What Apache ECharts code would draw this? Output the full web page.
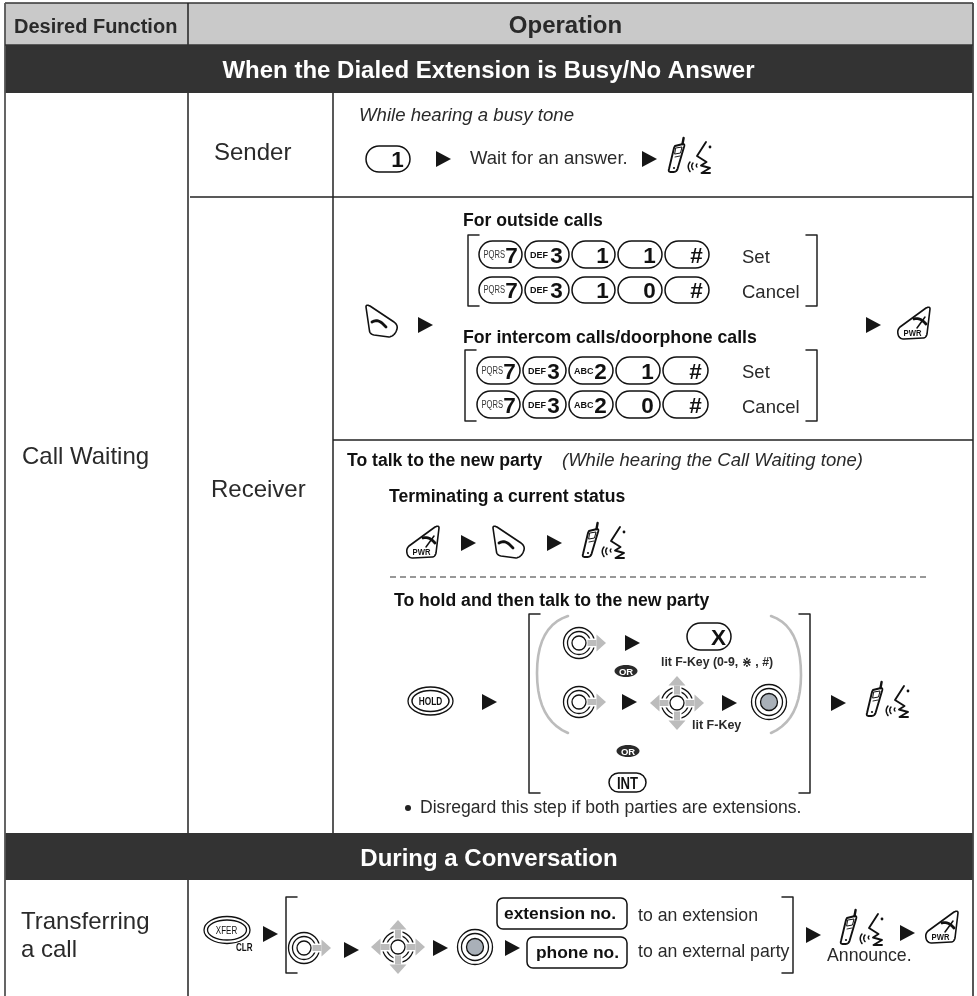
<!DOCTYPE html>
<html><head><meta charset="utf-8">
<style>html,body{margin:0;padding:0;background:#fff}#c{width:977px;height:996px}</style>
<script src="https://cdn.jsdelivr.net/npm/echarts@6/dist/echarts.min.js"></script>
</head><body><div id="c"></div>
<script>
const headers = ['Desired Function', 'Operation'];
const sections = ['When the Dialed Extension is Busy/No Answer', 'During a Conversation'];
const functionNames = ['Call Waiting', 'Transferring', 'a call'];
const roles = ['Sender', 'Receiver'];
const outsideRows = [['PQRS|7', 'DEF|3', '|1', '|1', '|#'], ['PQRS|7', 'DEF|3', '|1', '|0', '|#']];
const intercomRows = [['PQRS|7', 'DEF|3', 'ABC|2', '|1', '|#'], ['PQRS|7', 'DEF|3', 'ABC|2', '|0', '|#']];
const setCancel = ['Set', 'Cancel'];
const notes = {
  busy: 'While hearing a busy tone', wait: 'Wait for an answer.', outside: 'For outside calls',
  intercom: 'For intercom calls/doorphone calls', talk: 'To talk to the new party',
  tone: '(While hearing the Call Waiting tone)', term: 'Terminating a current status',
  hold: 'To hold and then talk to the new party', litAll: 'lit F-Key (0-9, \u22C7 , #)', lit: 'lit F-Key',
  disregard: 'Disregard this step if both parties are extensions.',
  ext: 'extension no.', phone: 'phone no.', toExt: 'to an extension', toParty: 'to an external party', announce: 'Announce.'
};

const FF = '"Liberation Sans", "DejaVu Sans", sans-serif';
const INK = '#1c1c1c', TXT = '#2a2a2a', GR = '#bcbcbc';
const E = [];
function txt(s, x, base, size, o) {
  o = o || {};
  const el = { type: 'text', x: x, y: base - 0.27 * size, style: {
    text: s, font: (o.italic ? 'italic ' : '') + (o.bold ? 'bold ' : '') + size + 'px ' + FF,
    fill: o.fill || TXT, textAlign: o.align || 'left', textVerticalAlign: 'middle' } };
  if (o.sx) { el.scaleX = o.sx; }
  return el;
}
function ln(x1, y1, x2, y2, c, w, dash) {
  return { type: 'line', shape: { x1, y1, x2, y2 }, style: { stroke: c || INK, lineWidth: w || 1.5, lineDash: dash || null } };
}
function rc(x, y, w, h, fill, r, stroke, lw) {
  return { type: 'rect', shape: { x, y, width: w, height: h, r: r || 0 }, style: { fill: fill, stroke: stroke || null, lineWidth: lw || 0 } };
}
function circ(cx, cy, r, stroke, lw, fill) {
  return { type: 'circle', shape: { cx, cy, r }, style: { fill: fill || 'none', stroke: stroke || null, lineWidth: lw || 0 } };
}
function ell(cx, cy, rx, ry, stroke, lw, fill) {
  return { type: 'ellipse', shape: { cx, cy, rx, ry }, style: { fill: fill || 'none', stroke: stroke || null, lineWidth: lw || 0 } };
}
function path(d, stroke, lw, fill) {
  const tk = d.replace(/([MLQZ])/g, ' $1 ').trim().split(/[\s,]+/).filter(Boolean);
  const out = []; let pts = null, i = 0, cur = null, op = null;
  const flush = (closed) => {
    if (!pts) return;
    out.push({ type: closed ? 'polygon' : 'polyline', shape: { points: pts },
      style: { stroke: stroke || null, lineWidth: lw || 1, fill: closed ? (fill || 'none') : null, lineJoin: 'round', lineCap: 'round' } });
    pts = null;
  };
  while (i < tk.length) {
    const t = tk[i];
    if (/^[MLQZ]$/.test(t)) { op = t; i++; if (t === 'Z') flush(true); continue; }
    if (op === 'M') { flush(false); cur = [+tk[i], +tk[i + 1]]; pts = [cur]; i += 2; op = 'L'; }
    else if (op === 'L') { cur = [+tk[i], +tk[i + 1]]; pts.push(cur); i += 2; }
    else if (op === 'Q') {
      const cx = +tk[i], cy = +tk[i + 1], ex = +tk[i + 2], ey = +tk[i + 3];
      for (let k = 1; k <= 10; k++) { const u = k / 10, v = 1 - u;
        pts.push([v * v * cur[0] + 2 * u * v * cx + u * u * ex, v * v * cur[1] + 2 * u * v * cy + u * u * ey]); }
      cur = [ex, ey]; i += 4;
    } else i++;
  }
  flush(false);
  return out;
}
function group(x, y, children, s) {
  return { type: 'group', x, y, scaleX: s || 1, scaleY: s || 1, children: children.flat() };
}
function tri(x, y, h) {
  h = h || 16;
  return { type: 'polygon', shape: { points: [[x, y], [x, y + h], [x + 15, y + h / 2]] }, style: { fill: '#161616' } };
}
function bracket(x, y0, y1, dir) {
  return path('M' + (x + dir * 11) + ' ' + y0 + ' L' + x + ' ' + y0 + ' L' + x + ' ' + y1 + ' L' + (x + dir * 11) + ' ' + y1, '#222', 1.5);
}
function key(x0, y0, x1, y1, spec) {
  const p = spec.split('|'), h = y1 - y0, out = [rc(x0, y0, x1 - x0, h, '#fff', h / 2, '#111', 1.5)];
  const mid = (y0 + y1) / 2;
  if (p[0] === 'PQRS') out.push(txt(p[0], x0 + 4.5, mid + 3.2, 10, { sx: 0.76, fill: '#333' }));
  else if (p[0]) out.push(txt(p[0], x0 + 5, mid + 3.2, 9, { bold: true, fill: '#111' }));
  const dx = p[0] === 'PQRS' ? 10.5 : 12.5;
  out.push(txt(p[1], x1 - dx, mid + 8, 22.5, { bold: true, align: 'center', fill: '#111' }));
  return out;
}
function talk(x, y) {
  return group(x, y, [
    path('M7 8 L15 6 Q17 6 16 9 L9.5 31 Q8.5 34 5 34 L3 34 Q0 34 1 31 L6 10 Z', '#111', 1.9, '#fff'),
    path('M14.5 6 L15.6 0', '#111', 2.4),
    path('M8 10 L14 9 L12.5 15 L7 16 Z', '#111', 1),
    path('M7 19 L12 18', '#111', 0.9),
    circ(6, 30, 1.1, '#111', 0, '#111'),
    path('M22 24 Q18.5 28.5 22 33.5', '#111', 1.5), path('M25 25 Q22.5 28 25 31.5', '#111', 1.5), path('M29 26 Q27.5 27.5 29 29', '#111', 1.4),
    path('M38 4 L29 18 L38.5 24 L33 27.5 L42 30 L33.5 35 L42 35', '#111', 1.9),
    circ(42, 9, 1.4, '#111', 0, '#111')
  ]);
}
function hang(x, y) {
  return group(x, y, [
    path('M1 3 Q1 0 5 2 L29 18 Q33 21 32 25 Q30 32 24 33 L9 31 Q5 30 4.5 27 Z', '#111', 1.6, '#fff'),
    path('M7 18 Q12 15 17 19 L21 23', '#111', 2.8)
  ]);
}
function pwr(x, y) {
  return group(x, y, [
    path('M33 3 Q33 0 29 2 L3 21 Q0 24 1 28 Q2 33 7 33 L26 32 Q29 32 30 28 Z', '#111', 1.6, '#fff'),
    path('M17 13 Q23 11 29 18', '#111', 2.8), path('M20 22 L28 11', '#111', 1.5),
    txt('PWR', 15.5, 30, 8.5, { bold: true, align: 'center', fill: '#111', sx: 0.9 })
  ]);
}
function arrow(cx, cy, ang) {
  const a = ang * Math.PI / 180;
  return { type: 'group', x: cx, y: cy, rotation: -a, children: [
    rc(8.5, -3, 9, 6, GR),
    { type: 'polygon', shape: { points: [[17.5, -8.5], [17.5, 8.5], [27, 0]] }, style: { fill: GR } }
  ] };
}
function navRight(cx, cy) {
  return [circ(cx, cy, 15.5, '#111', 1.3), circ(cx, cy, 11.5, '#111', 1.3), circ(cx, cy, 7, '#111', 1.3),
    rc(cx + 8, cy - 4.5, 12, 9, '#fff'), arrow(cx, cy, 0)];
}
function navCross(cx, cy) {
  const out = [circ(cx, cy, 15.5, '#111', 1.3), circ(cx, cy, 11.5, '#111', 1.3),
    rc(cx + 8, cy - 4.5, 12, 9, '#fff'), rc(cx - 20, cy - 4.5, 12, 9, '#fff'),
    rc(cx - 4.5, cy + 8, 9, 12, '#fff'), rc(cx - 4.5, cy - 20, 9, 12, '#fff'),
    circ(cx, cy, 7, '#111', 1.3)];
  [0, 90, 180, 270].forEach(a => out.push(arrow(cx, cy, a)));
  return out;
}
function navPress(cx, cy) {
  return [circ(cx, cy, 17.5, '#111', 1.3), circ(cx, cy, 13.5, '#111', 1.3), circ(cx, cy, 8.5, '#111', 1.3, '#a9b0b8')];
}
function orPill(cx, cy) {
  return [ell(cx, cy, 11.5, 6, null, 0, '#2a2a2a'), txt('OR', cx, cy + 3.5, 9.5, { bold: true, align: 'center', fill: '#fff' })];
}
function put() { for (const a of arguments) { if (Array.isArray(a)) put.apply(null, a); else E.push(a); } }

// table frame
put(rc(5, 3, 968, 42, '#c9c9c9'), rc(5, 45, 968, 48, '#333333'), rc(5, 833, 968, 47, '#333333'));
put(ln(5, 3, 973, 3, '#333', 1.5), ln(5, 3, 5, 996, '#555', 1.8), ln(973, 3, 973, 996, '#444', 1.8));
put(ln(188, 3, 188, 45, '#222', 1.5), ln(5, 45, 973, 45, '#333', 1.5));
put(ln(188, 93, 188, 833, '#222', 1.5), ln(333, 93, 333, 833, '#222', 1.5), ln(188, 880, 188, 996, '#222', 1.5));
put(ln(190, 197, 973, 197, '#222', 1.5), ln(333, 440, 973, 440, '#222', 1.5));
put(txt(headers[0], 14, 33, 20, { bold: true }), txt(headers[1], 565.5, 32.5, 24, { bold: true, align: 'center' }));
put(txt(sections[0], 488.5, 78, 24, { bold: true, align: 'center', fill: '#fff' }));
put(txt(sections[1], 489, 866, 24, { bold: true, align: 'center', fill: '#fff' }));
put(txt(functionNames[0], 22, 464, 24), txt(functionNames[1], 21, 929, 24), txt(functionNames[2], 21, 957, 24));
put(txt(roles[0], 214, 160, 24), txt(roles[1], 211, 497, 24));

// sender
put(txt(notes.busy, 359, 121, 18.6, { italic: true }));
put(key(366, 146, 410, 172, '|1'), tri(436, 151), txt(notes.wait, 470, 164, 18.5), tri(642, 151), talk(668, 138));

// receiver set/cancel
const X1 = [[479, 522], [525, 569], [572, 615], [618, 662], [665, 709]];
const X2 = [[477, 520], [523, 566], [569, 613], [616, 660], [663, 708]];
put(txt(notes.outside, 463, 225.5, 17.6, { bold: true, fill: '#111' }));
put(bracket(468, 235, 306, 1), bracket(817, 235, 306, -1));
outsideRows.forEach((r, i) => r.forEach((k, j) => put(key(X1[j][0], i ? 277 : 241, X1[j][1], i ? 303 : 268, k))));
put(txt(setCancel[0], 742, 263, 18.5), txt(setCancel[1], 742, 298, 18.5));
put(hang(365, 304), tri(418, 317), tri(866, 317), pwr(897, 306));
put(txt(notes.intercom, 463, 342.5, 17.7, { bold: true, fill: '#111' }));
put(bracket(465, 350, 421, 1), bracket(817, 350, 421, -1));
intercomRows.forEach((r, i) => r.forEach((k, j) => put(key(X2[j][0], i ? 391 : 357, X2[j][1], i ? 418 : 384, k))));
put(txt(setCancel[0], 742, 378, 18.5), txt(setCancel[1], 742, 413, 18.5));

// new party
put(txt(notes.talk, 347, 465.5, 17.6, { bold: true, fill: '#111' }), txt(notes.tone, 562, 465.5, 18.5, { italic: true }));
put(txt(notes.term, 389, 501.5, 17.6, { bold: true, fill: '#111' }));
put(pwr(406, 525), tri(461, 535), hang(492, 525), tri(547, 535), talk(582, 523));
put(ln(390, 577, 927, 577, '#333', 1.2, [6, 4]));
put(txt(notes.hold, 394, 605.5, 17.6, { bold: true, fill: '#111' }));
put(ell(430.5, 701, 22.5, 14, '#111', 1.3), ell(430.5, 701, 18.5, 10.5, '#111', 1.5));
put(txt('HOLD', 430.5, 705, 11.5, { bold: true, align: 'center', fill: '#111', sx: 0.72 }));
put(tri(482, 694), bracket(529, 614, 793, 1), bracket(810, 614, 793, -1));
put(path('M568 616 Q537 626 537 673 Q537 720 568 733', GR, 2.6), path('M771 616 Q801 626 801 675 Q801 720 771 733', GR, 2.6));
put(navRight(579, 643), tri(625, 635), orPill(626, 671));
put(key(687, 623, 731, 650, '|X'));
put(txt(notes.litAll, 661, 666, 12.3, { bold: true }));
put(navRight(579, 702), tri(622, 694), navCross(677, 703), tri(722, 695), navPress(769, 702));
put(txt(notes.lit, 692, 729, 12.5, { bold: true }));
put(tri(831, 695), talk(866, 682));
put(orPill(628, 751), rc(609, 773, 37, 19, '#fff', 9.5, '#111', 1.5), txt('INT', 627.5, 788.5, 16, { bold: true, align: 'center', fill: '#111', sx: 0.82 }));
put(circ(408, 808, 3, null, 0, '#222'), txt(notes.disregard, 420, 813, 17.6));

// transfer row
put(ell(227, 930, 23, 13.5, '#111', 1.3), ell(227, 930, 19.5, 10, '#111', 1.3));
put(txt('XFER', 226.5, 934, 10, { align: 'center', fill: '#111', sx: 0.8 }), txt('CLR', 236, 951, 11.5, { bold: true, fill: '#111', sx: 0.7 }));
put(tri(263, 926), bracket(286, 897, 973, 1), navRight(304, 948), tri(344, 942), navCross(398, 947), tri(433, 940), navPress(475, 947), tri(505, 940));
put(rc(497, 898, 130, 31, '#fff', 6, '#111', 1.5), rc(527, 937, 100, 31, '#fff', 6, '#111', 1.5));
put(txt(notes.ext, 560, 919, 17.4, { bold: true, align: 'center', fill: '#111' }), txt(notes.phone, 577.5, 958, 17.4, { bold: true, align: 'center', fill: '#111' }));
put(txt(notes.toExt, 638, 921, 17.7), txt(notes.toParty, 638, 957, 17.7));
put(bracket(793, 897, 973, -1), tri(806, 927), talk(840, 910), tri(900, 925), pwr(925, 910), txt(notes.announce, 827, 961, 17.7));

const chart = echarts.init(document.getElementById('c'), null, { renderer: 'canvas' });
chart.setOption({ animation: false, backgroundColor: '#fff', graphic: { elements: E } });
</script></body></html>
